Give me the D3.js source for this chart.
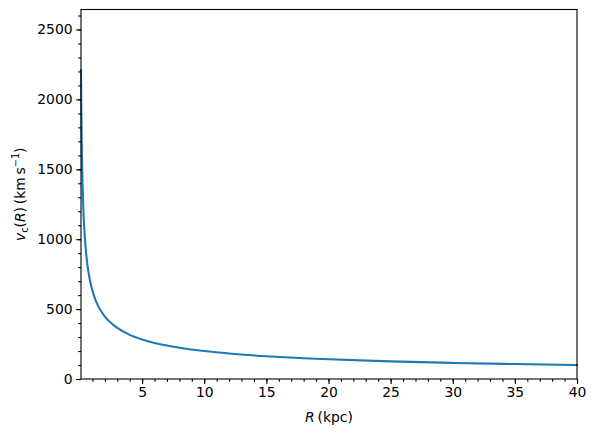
<!DOCTYPE html>
<html><head><meta charset="utf-8">
<script src="https://cdn.jsdelivr.net/npm/d3@7"></script>
<style>body{margin:0;background:#fff}svg{display:block;font-family:"DejaVu Sans",sans-serif}</style>
</head><body><svg id="c" width="596" height="436"></svg>
<script>
const radius = [0.08,0.1,0.12,0.15,0.2,0.25,0.3,0.4,0.5,0.6,0.75,1,1.25,1.5,2,2.5,3,4,5,6,7,8,10,12,15,18,20,25,30,35,40];
const velocity = [2210,2000,1825,1630,1410,1265,1150,1000,895,815,730,632,565,516,447,400,365,316,283,258,239,224,200,182,163,149,141,126,115,107,100];
const xTicks = [5,10,15,20,25,30,35,40];
const yTicks = [0,500,1000,1500,2000,2500];

const svg = d3.select("#c");
const L=81, R=577, T=9.5, B=379;
const x = d3.scaleLinear().domain([0.08,40]).range([L,R]);
const y = d3.scaleLinear().domain([0,2643]).range([B,T]);

const line = d3.line().x((d,i)=>x(radius[i])).y(d=>y(d)).curve(d3.curveMonotoneX);
svg.append("path").datum(velocity).attr("d",line).attr("fill","none")
  .attr("stroke","#1f77b4").attr("stroke-width",2.08).attr("stroke-linecap","square");

const gx = svg.append("g").attr("transform",`translate(0,${B})`);
gx.call(d3.axisBottom(x).tickValues(d3.range(1,41)).tickSize(2.8).tickFormat(""));
gx.call(g=>g.select(".domain").remove());
const gx2 = svg.append("g").attr("transform",`translate(0,${B})`);
gx2.call(d3.axisBottom(x).tickValues(xTicks).tickSize(4.9).tickPadding(3.5).tickFormat(d3.format("d")));
gx2.select(".domain").remove();

const gy = svg.append("g").attr("transform",`translate(${L},0)`);
gy.call(d3.axisLeft(y).tickValues(d3.range(0,2601,100)).tickSize(2.8).tickFormat(""));
gy.select(".domain").remove();
const gy2 = svg.append("g").attr("transform",`translate(${L},0)`);
gy2.call(d3.axisLeft(y).tickValues(yTicks).tickSize(4.9).tickPadding(3.5).tickFormat(d3.format("d")));
gy2.select(".domain").remove();

svg.selectAll(".tick line").attr("stroke","#000").attr("stroke-width",1.1);
svg.selectAll(".tick text").attr("font-size",13.9).attr("fill","#000").attr("font-family","DejaVu Sans");

svg.append("rect").attr("x",L).attr("y",T).attr("width",R-L).attr("height",B-T)
  .attr("fill","none").attr("stroke","#000").attr("stroke-width",1.1);

const xl = svg.append("text").attr("x",(L+R)/2).attr("y",422).attr("text-anchor","middle").attr("font-size",13.9);
xl.append("tspan").attr("font-style","italic").text("R");
xl.append("tspan").text("\u2009(kpc)");

const yl = svg.append("text").attr("transform",`translate(25,${(T+B)/2}) rotate(-90)`).attr("text-anchor","middle").attr("font-size",13.9);
yl.append("tspan").attr("font-style","italic").text("v");
yl.append("tspan").attr("font-size",9.7).attr("dy",3).text("c");
yl.append("tspan").attr("dy",-3).text("(");
yl.append("tspan").attr("font-style","italic").text("R");
yl.append("tspan").text(")\u2009(km\u2009s");
yl.append("tspan").attr("font-size",9.7).attr("dy",-6).text("\u22121");
yl.append("tspan").attr("dy",6).text(")");
</script></body></html>
